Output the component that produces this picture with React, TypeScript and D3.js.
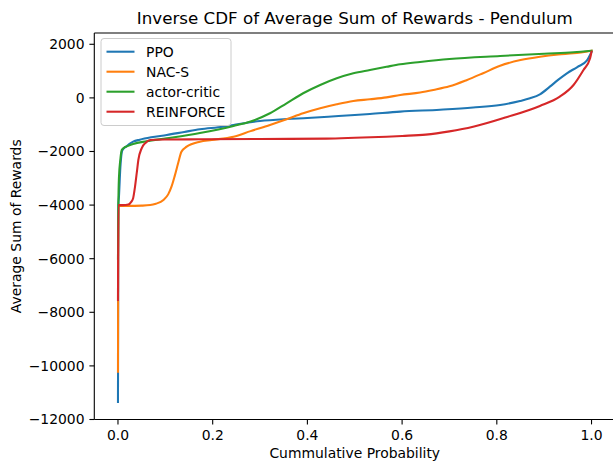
import React from "react";
import * as d3 from "d3";

const seriesNames = ["PPO", "NAC-S", "actor-critic", "REINFORCE"];
const seriesColors = ["#1f77b4", "#ff7f0e", "#2ca02c", "#d62728"];

const ppoP = [0, 0.0008, 0.002, 0.005, 0.009, 0.017, 0.032, 0.046, 0.07, 0.103, 0.14, 0.173, 0.222, 0.244, 0.3, 0.357, 0.4, 0.444, 0.5, 0.532, 0.596, 0.68, 0.75, 0.807, 0.849, 0.87, 0.891, 0.912, 0.93, 0.948, 0.97, 0.99, 1.0];
const ppoV = [-11346, -4000, -3700, -2600, -1960, -1820, -1634, -1560, -1470, -1384, -1270, -1171, -1075, -1011, -862, -787, -750, -701, -640, -600, -514, -440, -360, -265, -116, -15, 134, 418, 680, 918, 1150, 1388, 1712];

const nacP = [0, 0.0008, 0.02, 0.05, 0.068, 0.08, 0.096, 0.106, 0.113, 0.12, 0.127, 0.134, 0.145, 0.173, 0.198, 0.244, 0.28, 0.321, 0.356, 0.391, 0.427, 0.462, 0.497, 0.532, 0.567, 0.596, 0.638, 0.666, 0.7, 0.736, 0.771, 0.807, 0.85, 0.891, 0.93, 0.962, 1.0];
const nacV = [-10216, -4030, -4030, -4020, -4000, -3950, -3809, -3600, -3313, -2900, -2440, -2007, -1821, -1634, -1571, -1447, -1240, -1011, -800, -575, -388, -239, -116, -52, 20, 108, 200, 295, 430, 660, 920, 1200, 1410, 1537, 1620, 1664, 1761];

const acP = [0, 0.0008, 0.002, 0.005, 0.008, 0.012, 0.02, 0.032, 0.06, 0.103, 0.173, 0.244, 0.28, 0.321, 0.356, 0.391, 0.427, 0.462, 0.497, 0.532, 0.567, 0.596, 0.638, 0.7, 0.807, 0.9, 0.962, 1.0];
const acV = [-6000, -4000, -3000, -2300, -1944, -1870, -1800, -1720, -1620, -1508, -1310, -1048, -880, -575, -202, 172, 481, 731, 918, 1041, 1160, 1253, 1340, 1450, 1563, 1650, 1700, 1761];

const reP = [0, 0.0008, 0.01, 0.022, 0.028, 0.032, 0.036, 0.04, 0.043, 0.05, 0.058, 0.068, 0.1, 0.173, 0.3, 0.44, 0.5, 0.567, 0.6, 0.65, 0.7, 0.75, 0.82, 0.891, 0.933, 0.962, 0.983, 0.997, 1.0];
const reV = [-7540, -4000, -4000, -3980, -3880, -3746, -3313, -2750, -2317, -1880, -1680, -1571, -1555, -1545, -1533, -1520, -1490, -1447, -1420, -1370, -1250, -1080, -724, -302, 45, 481, 1041, 1477, 1724];

const seriesP = [ppoP, nacP, acP, reP];
const seriesV = [ppoV, nacV, acV, reV];

const xTicks = [0, 0.2, 0.4, 0.6, 0.8, 1.0];
const yTicks = [2000, 0, -2000, -4000, -6000, -8000, -10000, -12000];

const titleText = "Inverse CDF of Average Sum of Rewards - Pendulum";
const xLabel = "Cummulative Probability";
const yLabel = "Average Sum of Rewards";

export default function App() {
  const W = 613, H = 464;
  const left = 94.3, right = 615.2, top = 33, bottom = 419.5;
  const x = d3.scaleLinear().domain([-0.05, 1.05]).range([left, right]);
  const y = d3.scaleLinear().domain([-12000, 2421]).range([bottom, top]);
  const line = d3.line<[number, number]>()
    .x(d => x(d[0]))
    .y(d => y(d[1]))
    .curve(d3.curveMonotoneX);
  const font = "DejaVu Sans, sans-serif";
  const fmtY = (v: number) => (v < 0 ? "\u2212" + Math.abs(v) : String(v));
  const cx = (left + right) / 2;
  const cy = (top + bottom) / 2;
  return (
    <div style={{ position: "fixed", left: 0, top: 0 }}>
      <svg width={W} height={H} style={{ display: "block", background: "#fff" }}>
        <defs>
          <clipPath id="plotclip">
            <rect x={left} y={top} width={right - left} height={bottom - top} />
          </clipPath>
        </defs>
        <rect x={0} y={0} width={W} height={H} fill="#fff" />
        <g clipPath="url(#plotclip)">
          {seriesP.map((ps, i) => (
            <path
              key={i}
              d={line(ps.map((p, j) => [p, seriesV[i][j]] as [number, number])) || ""}
              fill="none"
              stroke={seriesColors[i]}
              strokeWidth={2.08}
              strokeLinejoin="round"
              strokeLinecap="square"
            />
          ))}
        </g>
        <g stroke="#000" strokeWidth={1.1} fill="none">
          <line x1={left} y1={top} x2={left} y2={bottom} />
          <line x1={left} y1={bottom} x2={right} y2={bottom} />
          <line x1={left} y1={top} x2={right} y2={top} />
          <line x1={right} y1={top} x2={right} y2={bottom} />
        </g>
        {xTicks.map(t => (
          <g key={"x" + t}>
            <line x1={x(t)} x2={x(t)} y1={bottom} y2={bottom + 4.9} stroke="#000" strokeWidth={1.1} />
            <text x={x(t)} y={bottom + 20} textAnchor="middle" fontFamily={font} fontSize={13.9} fill="#000">
              {t.toFixed(1)}
            </text>
          </g>
        ))}
        {yTicks.map(t => (
          <g key={"y" + t}>
            <line x1={left - 4.9} x2={left} y1={y(t)} y2={y(t)} stroke="#000" strokeWidth={1.1} />
            <text x={left - 9.8} y={y(t)} dy="0.35em" textAnchor="end" fontFamily={font} fontSize={13.9} fill="#000">
              {fmtY(t)}
            </text>
          </g>
        ))}
        <text x={cx} y={24} textAnchor="middle" fontFamily={font} fontSize={16.7} fill="#000">
          {titleText}
        </text>
        <text x={cx} y={458} textAnchor="middle" fontFamily={font} fontSize={13.9} fill="#000">
          {xLabel}
        </text>
        <text
          transform={`translate(21,${cy}) rotate(-90)`}
          textAnchor="middle"
          fontFamily={font}
          fontSize={13.9}
          fill="#000"
        >
          {yLabel}
        </text>
        <g>
          <rect x={101} y={38.5} width={130} height={87} rx={3} ry={3} fill="#fff" fillOpacity={0.8} stroke="#ccc" strokeWidth={1} />
          {seriesNames.map((n, i) => (
            <g key={n}>
              <line x1={106.5} x2={134.5} y1={51.7 + i * 20} y2={51.7 + i * 20} stroke={seriesColors[i]} strokeWidth={2.08} />
              <text x={146} y={51.7 + i * 20} dy="0.35em" fontFamily={font} fontSize={13.9} fill="#000">
                {n}
              </text>
            </g>
          ))}
        </g>
      </svg>
    </div>
  );
}
